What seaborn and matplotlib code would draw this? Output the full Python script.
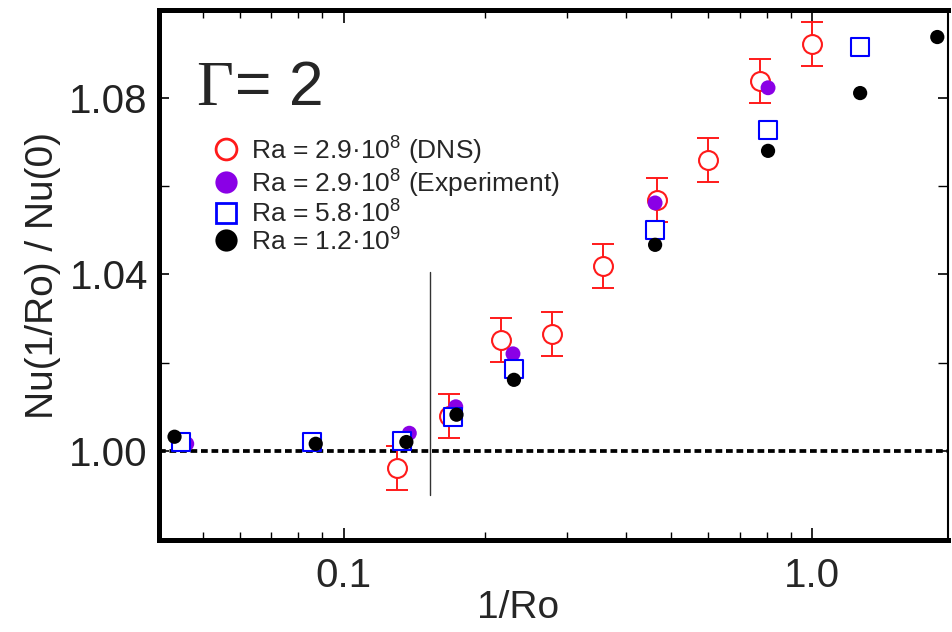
import numpy as np
import pandas as pd
import seaborn as sns
import matplotlib.pyplot as plt
from matplotlib.lines import Line2D
from matplotlib.ticker import FixedLocator, NullFormatter

# values
dns_x = [0.130, 0.1676, 0.2165, 0.278, 0.357, 0.467, 0.600, 0.774, 1.0]
dns_y = [0.9961, 1.0079, 1.0252, 1.0265, 1.0419, 1.0569, 1.0660, 1.0838, 1.0922]
dns_err = [0.005, 0.005, 0.005, 0.005, 0.005, 0.005, 0.005, 0.005, 0.005]

exp_x = [0.0462, 0.138, 0.1734, 0.2297, 0.462, 0.805]
exp_y = [1.0016, 1.0040, 1.0100, 1.0220, 1.0562, 1.0823]

ra58_x = [0.0449, 0.0855, 0.133, 0.171, 0.2308, 0.462, 0.805, 1.266]
ra58_y = [1.0020, 1.0020, 1.0023, 1.0077, 1.0186, 1.0501, 1.0728, 1.0916]

ra12_x = [0.0435, 0.0871, 0.136, 0.174, 0.2308, 0.462, 0.805, 1.266, 1.85]
ra12_y = [1.0032, 1.0016, 1.0020, 1.0082, 1.0161, 1.0467, 1.0680, 1.0811, 1.0938]

labels = ["Ra = 2.9\u00b710$^{8}$ (DNS)",
          "Ra = 2.9\u00b710$^{8}$ (Experiment)",
          "Ra = 5.8\u00b710$^{8}$",
          "Ra = 1.2\u00b710$^{9}$"]
x_ticks = [0.1, 1.0]
x_ticklabels = ["0.1", "1.0"]
y_ticks = [1.00, 1.04, 1.08]
y_ticklabels = ["1.00", "1.04", "1.08"]

red = "#ff1a1a"
purple = "#8a00e6"
blue = "#0000ff"

sns.set_style("ticks")
plt.rcParams["font.family"] = ["Liberation Sans", "DejaVu Sans"]
plt.rcParams["mathtext.fontset"] = "custom"
plt.rcParams["mathtext.rm"] = "Liberation Sans"

fig = plt.figure(figsize=(9.52, 6.32), dpi=100)
ax = fig.add_axes([0.167, 0.1456, 0.8288, 0.8384])

# reference lines
ax.axhline(1.0, color="black", lw=2.7, ls=(0, (1.8, 1.0)), zorder=1)
ax.plot([0.1527, 0.1527], [0.990, 1.0406], color="#333333", lw=1.0, zorder=1)

# DNS with error bars
ax.errorbar(dns_x, dns_y, yerr=dns_err, fmt="none", ecolor=red,
            elinewidth=1.4, capsize=8, capthick=1.4, zorder=2)
sns.scatterplot(x=dns_x, y=dns_y, ax=ax, marker="o", s=185, facecolor="white",
                edgecolor=red, linewidth=1.5, zorder=3)
sns.scatterplot(x=exp_x, y=exp_y, ax=ax, marker="o", s=115, color=purple,
                edgecolor="none", zorder=4)
sns.scatterplot(x=ra58_x, y=ra58_y, ax=ax, marker="s", s=150, facecolor="white",
                edgecolor=blue, linewidth=1.5, zorder=5)
sns.scatterplot(x=ra12_x, y=ra12_y, ax=ax, marker="o", s=105, color="black",
                edgecolor="none", zorder=6)

ax.set_xscale("log")
ax.set_xlim(0.0403, 1.95)
ax.set_ylim(0.9798, 1.0999)

ax.xaxis.set_major_locator(FixedLocator(x_ticks))
ax.set_xticklabels(x_ticklabels)
minor = [v * d for d in (0.01, 0.1, 1.0) for v in range(2, 10)]
ax.xaxis.set_minor_locator(FixedLocator(minor))
ax.xaxis.set_minor_formatter(NullFormatter())
ax.set_yticks(y_ticks)
ax.set_yticklabels(y_ticklabels)
ax.yaxis.set_minor_locator(FixedLocator([1.02, 1.06]))

ax.tick_params(which="both", direction="in", top=True, right=True, color="black")
ax.tick_params(which="major", length=9, width=1.2)
ax.tick_params(which="minor", length=6, width=1.0)
ax.tick_params(axis="y", which="both", length=7)
ax.tick_params(axis="x", which="major", pad=12)
ax.tick_params(axis="y", which="major", pad=8)
for lab in ax.get_xticklabels():
    lab.set_fontsize(29)
for lab in ax.get_yticklabels():
    lab.set_fontsize(29)
    lab.set_color("#222222")

for side in ["left", "bottom", "top"]:
    ax.spines[side].set_linewidth(3.6)
ax.spines["right"].set_linewidth(1.5)
for side in ax.spines:
    ax.spines[side].set_color("black")

ax.set_xlabel("1/Ro", fontsize=28)
ax.xaxis.set_label_coords(0.455, -0.095)
ax.set_ylabel("Nu(1/Ro) / Nu(0)", fontsize=28, labelpad=6, color="#222222")

ax.text(0.047, 0.821, "\u0393", transform=ax.transAxes, fontsize=46,
        family="Liberation Serif", va="baseline", ha="left")
ax.text(0.096, 0.821, "= 2", transform=ax.transAxes, fontsize=45,
        va="baseline", ha="left")

handles = [
    Line2D([], [], marker="o", ls="", ms=15, mfc="white", mec=red, mew=2.0),
    Line2D([], [], marker="o", ls="", ms=16, mfc=purple, mec=purple, mew=0),
    Line2D([], [], marker="s", ls="", ms=14, mfc="white", mec=blue, mew=2.0),
    Line2D([], [], marker="o", ls="", ms=16, mfc="black", mec="black", mew=0),
]
ax.legend(handles, labels, loc="upper left", bbox_to_anchor=(0.068, 0.768),
          frameon=False, fontsize=19, handlelength=1.05, handletextpad=0.4,
          labelspacing=0.0, borderpad=0, borderaxespad=0)

fig.savefig("out.png", dpi=100)
